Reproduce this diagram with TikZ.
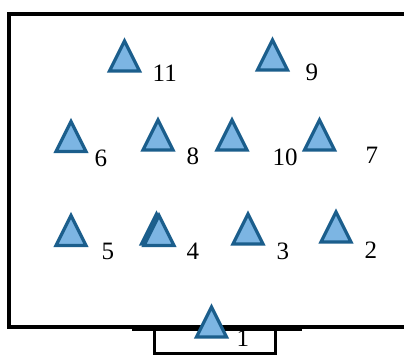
\documentclass[tikz,border=0pt]{standalone}
\usepackage{fontspec}
\setmainfont{Liberation Serif}
\definecolor{trifill}{RGB}{124,181,227}
\definecolor{triedge}{RGB}{27,94,140}
\tikzset{
	tri/.pic={\draw[draw=triedge, fill=trifill, line width=3.3pt] (-15,0) -- (0,-30) -- (15,0) -- cycle;},
	lbl/.style={anchor=base west, inner sep=0pt, font=\fontsize{25}{29}\selectfont},
	wall/.style={line width=4pt}
}
\begin{document}
\begin{tikzpicture}[x=1pt, y=-1pt]
		\useasboundingbox (0,0) rectangle (404,356);
		% room outline
		\draw[wall] (404,14) -- (9,14) -- (9,327) -- (404,327);
		\draw[line width=3pt] (132,329) -- (302,329);
		\draw[line width=3pt] (154,329) rectangle (275.5,353.5);
		% markers
		\pic at (124.5,71) {tri};
		\pic at (272.5,70) {tri};
		\pic at (71,151.5) {tri};
		\pic at (158,150) {tri};
		\pic at (232,150) {tri};
		\pic at (319.5,150) {tri};
		\pic at (71,245.5) {tri};
		\pic at (156.5,244) {tri};
		\pic at (159,245.5) {tri};
		\pic at (248,244) {tri};
		\pic at (336,242) {tri};
		\pic at (211.5,337) {tri};
		% numbers
		\node[lbl] (n11) at (152.5,81) {11};
		\node[lbl] (n9) at (305.5,80) {9};
		\node[lbl] (n6) at (94.5,166) {6};
		\node[lbl] (n8) at (186.5,164) {8};
		\node[lbl] (n10) at (272.5,165) {10};
		\node[lbl] (n7) at (365.5,163) {7};
		\node[lbl] (n5) at (101.5,259) {5};
		\node[lbl] (n4) at (186.5,259) {4};
		\node[lbl] (n3) at (276.5,259) {3};
		\node[lbl] (n2) at (364.5,258) {2};
		\node[lbl] (n1) at (236.5,346) {1};
	\end{tikzpicture}
\end{document}
